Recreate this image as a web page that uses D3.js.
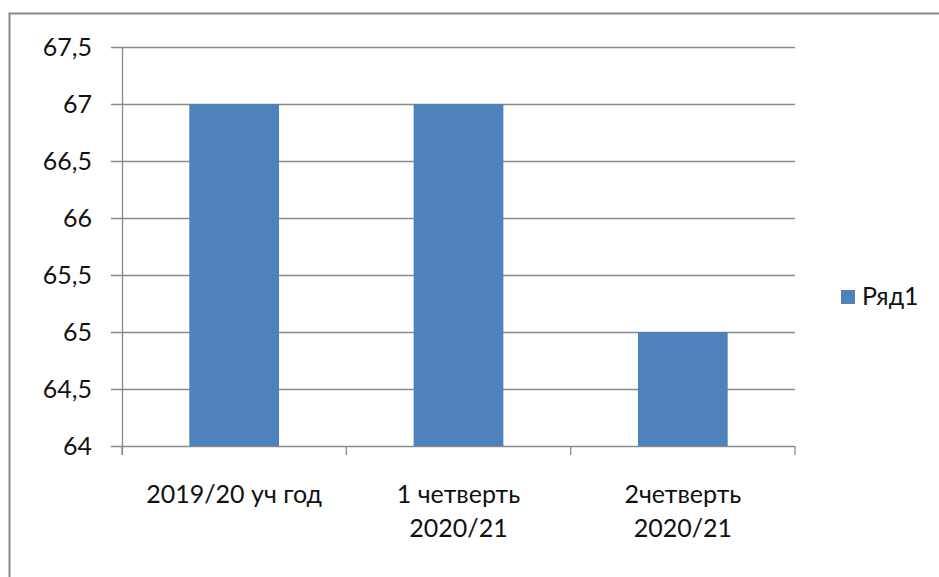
<!DOCTYPE html>
<meta charset="utf-8">
<style>
body { margin: 0; background: #fff; font-family: Lato, "Open Sans", Arial, sans-serif; }
text { fill: #111; }
</style>
<body>
<svg width="939" height="577"></svg>
<script src="https://d3js.org/d3.v7.min.js"></script>
<script>
var categories = [["2019/20 уч год"], ["1 четверть", "2020/21"], ["2четверть", "2020/21"]];
var values = [67, 67, 65];
var yTicks = [64, 64.5, 65, 65.5, 66, 66.5, 67, 67.5];
var seriesName = "Ряд1";

var svg = d3.select("svg"),
    margin = {top: 47, left: 122},
    plotW = 673,
    plotH = 399;

// outer frame of the chart (clipped by the window)
svg.append("rect")
    .attr("x", 9.5).attr("y", 13.5)
    .attr("width", 1000).attr("height", 700)
    .attr("fill", "none").attr("stroke", "#888").attr("stroke-width", 2);

var g = svg.append("g")
    .attr("transform", "translate(" + margin.left + "," + margin.top + ")");

var x = d3.scaleBand()
    .domain(d3.range(categories.length))
    .range([0, plotW])
    .paddingInner(0.6).paddingOuter(0.3);
var y = d3.scaleLinear()
    .domain([64, 67.5])
    .range([plotH, 0]);

// grid lines with tick stubs
g.selectAll("line.grid")
    .data(yTicks)
    .enter().append("line")
    .attr("class", "grid")
    .attr("x1", -11).attr("x2", plotW)
    .attr("y1", function (d) { return Math.round(y(d)) + 0.5; })
    .attr("y2", function (d) { return Math.round(y(d)) + 0.5; })
    .attr("stroke", "#8a8a8a").attr("stroke-width", 1.3);

g.selectAll("text.ytick")
    .data(yTicks)
    .enter().append("text")
    .attr("class", "ytick")
    .attr("x", -30)
    .attr("y", function (d) { return y(d) + 9; })
    .attr("text-anchor", "end")
    .style("font-size", "25px")
    .text(function (d) { return String(d).replace(".", ","); });

// bars
g.selectAll("rect.bar")
    .data(values)
    .enter().append("rect")
    .attr("class", "bar")
    .attr("x", function (d, i) { return x(i); })
    .attr("width", x.bandwidth())
    .attr("y", function (d) { return y(d); })
    .attr("height", function (d) { return plotH - y(d); })
    .attr("fill", "#4f81bd");

// vertical axis
g.append("line")
    .attr("x1", 0.5).attr("x2", 0.5)
    .attr("y1", 0).attr("y2", plotH + 9)
    .attr("stroke", "#8a8a8a").attr("stroke-width", 1.3);

// category ticks
var step = plotW / categories.length;
g.selectAll("line.xtick")
    .data(d3.range(categories.length + 1))
    .enter().append("line")
    .attr("class", "xtick")
    .attr("x1", function (d) { return d * step; })
    .attr("x2", function (d) { return d * step; })
    .attr("y1", plotH).attr("y2", plotH + 9)
    .attr("stroke", "#8a8a8a").attr("stroke-width", 1.3);

var labels = g.selectAll("text.xlabel")
    .data(categories)
    .enter().append("text")
    .attr("class", "xlabel")
    .attr("text-anchor", "middle")
    .style("font-size", "25px")
    .attr("transform", function (d, i) {
        return "translate(" + (x(i) + x.bandwidth() / 2) + "," + (plotH + 57) + ")";
    });
labels.selectAll("tspan")
    .data(function (d) { return d; })
    .enter().append("tspan")
    .attr("x", 0)
    .attr("y", function (d, i) { return i * 34; })
    .text(function (d) { return d; });

// legend
var legend = svg.append("g").attr("transform", "translate(841,290)");
legend.append("rect").attr("width", 14).attr("height", 14).attr("fill", "#4f81bd");
legend.append("text")
    .attr("x", 21).attr("y", 15)
    .style("font-size", "25px")
    .text(seriesName);
</script>
</body>
